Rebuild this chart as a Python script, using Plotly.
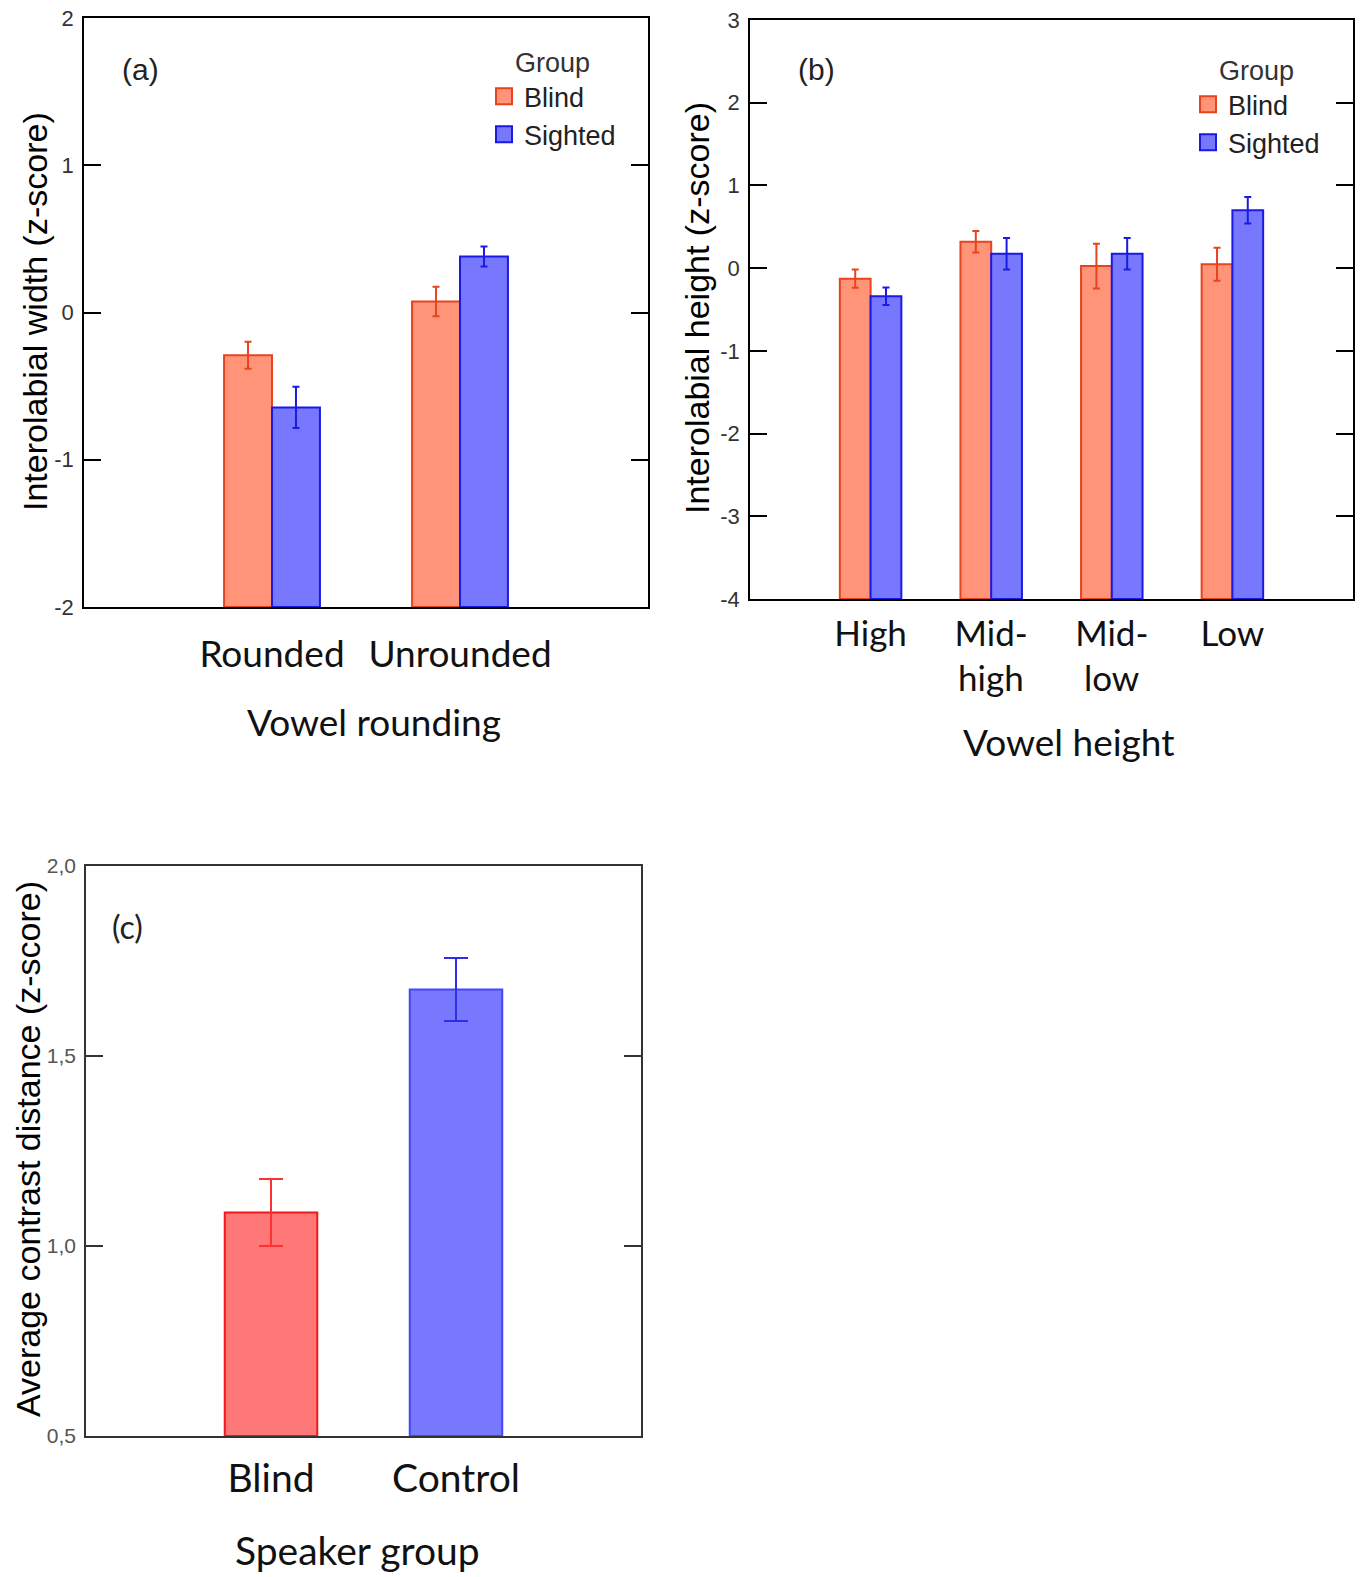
import plotly.graph_objects as go

# ---- panel (a): interolabial width by vowel rounding ----
rounding_cats = ["Rounded", "Unrounded"]
width_blind = [-0.29, 0.075]
width_blind_err = [0.092, 0.10]
width_sighted = [-0.645, 0.38]
width_sighted_err = [0.14, 0.068]

# ---- panel (b): interolabial height by vowel height ----
height_cats_line1 = ["High", "Mid-", "Mid-", "Low"]
height_cats_line2 = ["", "high", "low", ""]
height_blind = [-0.127, 0.32, 0.025, 0.047]
height_blind_err = [0.11, 0.13, 0.27, 0.20]
height_sighted = [-0.34, 0.175, 0.175, 0.70]
height_sighted_err = [0.105, 0.19, 0.19, 0.16]

# ---- panel (c): average contrast distance by speaker group ----
speaker_cats = ["Blind", "Control"]
contrast_mean = [1.088, 1.675]
contrast_err = [0.088, 0.083]

# axis ranges (bars grow up from the bottom of each frame)
A_RANGE = (-2, 2)
B_RANGE = (-4, 3)
C_RANGE = (0.5, 2.0)

# ---- styling ----
BLIND_FILL, BLIND_LINE = "#FF9478", "#E8431F"
SIGHT_FILL, SIGHT_LINE = "#7878FF", "#1A1AE6"
C_BLIND_FILL, C_BLIND_LINE, C_BLIND_ERR = "#FF7878", "#F01818", "#FF3030"
C_CTRL_FILL, C_CTRL_LINE, C_CTRL_ERR = "#7878FF", "#4545FF", "#2E2EE8"

SANS = "Liberation Sans, Arial, sans-serif"
NARROW = "Liberation Sans Narrow, Arial Narrow, Liberation Sans, sans-serif"
HUMANIST = "Lato, Open Sans, sans-serif"

W, H = 1361, 1577


def px_x(v):
    return v / W


def px_y(v):
    return 1 - v / H


def bar(xs, values, errs, base, fill, line, cap, xa, ya, name, errcolor=None, **kw):
    """Bar drawn from the frame bottom (base) up to each value."""
    return go.Bar(
        x=xs, y=[v - base for v in values], base=base,
        marker=dict(color=fill, line=dict(color=line, width=2)),
        error_y=dict(type="data", array=errs, color=errcolor or line, thickness=2, width=cap),
        xaxis=xa, yaxis=ya, showlegend=False, name=name, **kw,
    )


fig = go.Figure()

# panel (a)
xa_pos = list(range(len(rounding_cats)))
fig.add_trace(bar(xa_pos, width_blind, width_blind_err, A_RANGE[0], BLIND_FILL, BLIND_LINE, 3.5, "x", "y", "Blind"))
fig.add_trace(bar(xa_pos, width_sighted, width_sighted_err, A_RANGE[0], SIGHT_FILL, SIGHT_LINE, 3.5, "x", "y", "Sighted"))

# panel (b)
xb_pos = list(range(len(height_cats_line1)))
fig.add_trace(bar(xb_pos, height_blind, height_blind_err, B_RANGE[0], BLIND_FILL, BLIND_LINE, 3.5, "x2", "y2", "Blind"))
fig.add_trace(bar(xb_pos, height_sighted, height_sighted_err, B_RANGE[0], SIGHT_FILL, SIGHT_LINE, 3.5, "x2", "y2", "Sighted"))

# panel (c): one trace per group so each has its own error-bar colour
for i, (fill, line, err) in enumerate([(C_BLIND_FILL, C_BLIND_LINE, C_BLIND_ERR),
                                       (C_CTRL_FILL, C_CTRL_LINE, C_CTRL_ERR)]):
    fig.add_trace(bar([i], [contrast_mean[i]], [contrast_err[i]], C_RANGE[0], fill, line, 12,
                      "x3", "y3", speaker_cats[i], errcolor=err, width=0.5, offsetgroup="c"))

# legend swatches for panels (a) and (b)
for legend_id, xa, ya in [("legend", "x", "y"), ("legend2", "x2", "y2")]:
    for name, fill, line in [("Blind", BLIND_FILL, BLIND_LINE), ("Sighted", SIGHT_FILL, SIGHT_LINE)]:
        fig.add_trace(go.Scatter(
            x=[None], y=[None], mode="markers", name=name,
            marker=dict(symbol="square", size=16, color=fill, line=dict(color=line, width=2)),
            xaxis=xa, yaxis=ya, legend=legend_id, showlegend=True,
        ))

TICKLEN = 17
ytick_font = dict(family=NARROW, size=22, color="#333333")
xtick_font_a = dict(family=HUMANIST, size=37, color="#111111")
xtick_font_b = dict(family=HUMANIST, size=35, color="#111111")
xtick_font_c = dict(family=HUMANIST, size=39, color="#111111")


def frame_x(domain, rng, vals, text, font, standoff, anchor, color="black"):
    return dict(domain=domain, range=rng, tickvals=vals, ticktext=text, tickfont=font,
                ticklabelstandoff=standoff, anchor=anchor, ticks="", showline=True, mirror=True,
                linecolor=color, linewidth=1.5, showgrid=False, zeroline=False, automargin=False)


def top_ticks(over, rng, vals, anchor, color="black"):
    return dict(overlaying=over, side="top", anchor=anchor, range=rng, tickvals=vals,
                ticks="inside", ticklen=TICKLEN, tickwidth=1.5, tickcolor=color,
                showticklabels=False, showline=False, showgrid=False, zeroline=False, automargin=False)


def frame_y(domain, rng, vals, text, font, anchor, color="black", fmt=None):
    d = dict(domain=domain, range=rng, tickvals=vals, tickfont=font, ticklabelstandoff=4,
             anchor=anchor, ticks="inside", ticklen=TICKLEN, tickwidth=1.5, tickcolor=color,
             showline=True, mirror="ticks", linecolor=color, linewidth=1.5,
             showgrid=False, zeroline=False, automargin=False)
    if text is not None:
        d["ticktext"] = text
    if fmt:
        d["tickformat"] = fmt
    return d


a_yvals = list(range(A_RANGE[0], A_RANGE[1] + 1))
b_yvals = list(range(B_RANGE[0], B_RANGE[1] + 1))
c_yvals = [0.5, 1.0, 1.5, 2.0]

legend_common = dict(xanchor="left", yanchor="top", bgcolor="rgba(0,0,0,0)",
                     font=dict(family=SANS, size=27, color="#222222"),
                     itemsizing="trace", tracegroupgap=0)

fig.update_layout(
    template="none",
    width=W, height=H,
    margin=dict(l=0, r=0, t=0, b=0, pad=0),
    paper_bgcolor="white", plot_bgcolor="white",
    barmode="group", bargap=0.49,
    separators=",.",
    xaxis=frame_x([px_x(84), px_x(648)], [-1, 2], xa_pos, rounding_cats, xtick_font_a, 14, "y"),
    yaxis=frame_y([px_y(607), px_y(18)], list(A_RANGE), a_yvals, [str(v) for v in a_yvals],
                  ytick_font, "x"),
    xaxis2=frame_x([px_x(750), px_x(1353)], [-1, 4], xb_pos, height_cats_line1, xtick_font_b, 3, "y2"),
    yaxis2=frame_y([px_y(599), px_y(20)], list(B_RANGE), b_yvals, [str(v) for v in b_yvals],
                   ytick_font, "x2"),
    xaxis3=frame_x([px_x(86), px_x(641)], [-1, 2], [0, 1], speaker_cats, xtick_font_c, 7, "y3", "#333333"),
    yaxis3=frame_y([px_y(1436), px_y(866)], list(C_RANGE), c_yvals, None,
                   dict(family=NARROW, size=21, color="#555555"), "x3", "#333333", ".1f"),
    # tick marks along the top edge of each frame
    xaxis4=top_ticks("x", [-1, 2], xa_pos, "y"),
    xaxis5=top_ticks("x2", [-1, 4], xb_pos, "y2"),
    xaxis6=top_ticks("x3", [-1, 2], [0, 1], "y3", "#333333"),
    legend=dict(x=px_x(484), y=px_y(37),
                title=dict(text="Group", side="top center", font=dict(family=SANS, size=27, color="#333333")),
                **legend_common),
    legend2=dict(x=px_x(1188), y=px_y(45),
                 title=dict(text="Group", side="top center", font=dict(family=SANS, size=27, color="#333333")),
                 **legend_common),
)

annotations = [
    # y-axis titles
    dict(text="Interolabial width (z-score)", x=px_x(35), y=px_y(312), textangle=-90,
         font=dict(family=SANS, size=34, color="black")),
    dict(text="Interolabial height (z-score)", x=px_x(697), y=px_y(308), textangle=-90,
         font=dict(family=SANS, size=34, color="black")),
    dict(text="Average contrast distance (z-score)", x=px_x(28), y=px_y(1149), textangle=-90,
         font=dict(family=SANS, size=34, color="black")),
    # x-axis titles
    dict(text="Vowel rounding", x=px_x(374), y=px_y(722),
         font=dict(family=HUMANIST, size=37, color="#111111")),
    dict(text="Vowel height", x=px_x(1068), y=px_y(741),
         font=dict(family=HUMANIST, size=37, color="#111111")),
    dict(text="Speaker group", x=px_x(357), y=px_y(1550),
         font=dict(family=HUMANIST, size=39, color="#111111")),
    # panel letters
    dict(text="(a)", x=px_x(140), y=px_y(70), font=dict(family=SANS, size=30, color="#222222")),
    dict(text="(b)", x=px_x(816), y=px_y(70), font=dict(family=SANS, size=30, color="#222222")),
    dict(text="(c)", x=px_x(128), y=px_y(926), font=dict(family=HUMANIST, size=32, color="#222222")),
]
for a in annotations:
    a.update(xref="paper", yref="paper")

# second line of the two-word vowel-height categories, under their tick labels
for pos, word in zip(xb_pos, height_cats_line2):
    if word:
        annotations.append(dict(text=word, x=pos, xref="x2", y=px_y(677), yref="paper",
                                font=xtick_font_b))

for a in annotations:
    a.update(showarrow=False, xanchor="center", yanchor="middle")
fig.update_layout(annotations=annotations)

fig.write_html("out.html")
